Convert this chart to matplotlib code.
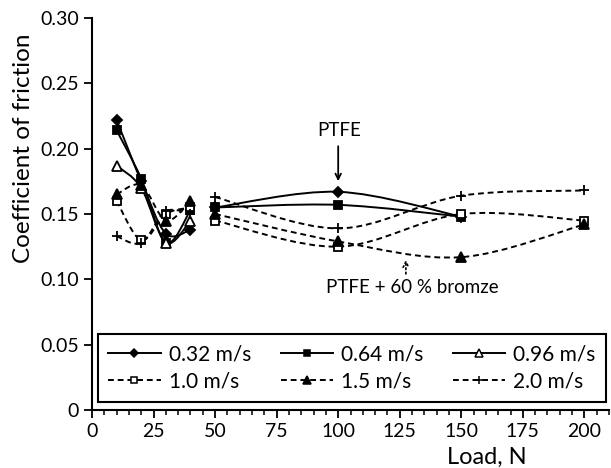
import numpy as np
import matplotlib
matplotlib.use("Agg")
import matplotlib.pyplot as plt
from matplotlib.path import Path
from matplotlib.patches import PathPatch
from matplotlib.lines import Line2D
from matplotlib.ticker import MultipleLocator, FuncFormatter

plt.rcParams['font.family'] = ['Lato', 'DejaVu Sans']

# sliding speeds (legend order)
speeds = ['0.32 m/s', '0.64 m/s', '0.96 m/s', '1.0 m/s', '1.5 m/s', '2.0 m/s']

# PTFE, loads 10-40 N
loads_ptfe = [10, 20, 30, 40]
cof_ptfe = [
    [0.222, 0.175, 0.135, 0.138],
    [0.214, 0.177, 0.128, 0.153],
    [0.187, 0.170, 0.128, 0.145],
    [0.160, 0.130, 0.150, 0.155],
    [0.165, 0.172, 0.145, 0.160],
    [0.133, 0.128, 0.152, 0.150],
]

# PTFE + 60 % bronze, loads 50-200 N
loads_bronze = [50, 100, 150, 200]
cof_bronze = [
    [0.155, 0.167, 0.148, np.nan],
    [0.155, 0.157, 0.148, np.nan],
    [np.nan, np.nan, np.nan, np.nan],
    [0.145, 0.125, 0.150, 0.145],
    [0.150, 0.129, 0.117, 0.142],
    [0.163, 0.139, 0.164, 0.168],
]

styles = [
    dict(ls='-', marker='D', mfc='black', ms=5.5),
    dict(ls='-', marker='s', mfc='black', ms=6),
    dict(ls='-', marker='^', mfc='white', ms=7),
    dict(ls=(0, (3, 2)), marker='s', mfc='white', ms=6),
    dict(ls=(0, (3, 2)), marker='^', mfc='black', ms=7),
    dict(ls=(0, (3, 2)), marker='+', mfc='black', ms=7),
]


def smooth_curve(ax, xs, ys, ls):
    # smoothed line through the points (bezier, catmull-rom style)
    pts = np.array([(x, y) for x, y in zip(xs, ys) if not np.isnan(y)])
    n = len(pts)
    if n < 2:
        return
    verts = [pts[0]]
    codes = [Path.MOVETO]
    for i in range(n - 1):
        p0 = pts[max(i - 1, 0)]
        p1 = pts[i]
        p2 = pts[i + 1]
        p3 = pts[min(i + 2, n - 1)]
        verts += [p1 + (p2 - p0) / 6, p2 - (p3 - p1) / 6, p2]
        codes += [Path.CURVE4] * 3
    ax.add_patch(PathPatch(Path(verts, codes), fill=False, ec='black',
                           lw=1.4, ls=ls))


fig = plt.figure(figsize=(6.11, 4.68), dpi=100)
ax = fig.add_axes([0.1506, 0.1239, 0.8461, 0.8376])

for i in range(len(speeds)):
    st = styles[i]
    for xs, ys in ((loads_ptfe, cof_ptfe[i]), (loads_bronze, cof_bronze[i])):
        smooth_curve(ax, xs, ys, st['ls'])
        ax.plot(xs, ys, ls='none', marker=st['marker'], mfc=st['mfc'],
                mec='black', ms=st['ms'], mew=1.3, zorder=3)

handles = [Line2D([], [], color='black', lw=1.4, ls=st['ls'], marker=st['marker'],
                  mfc=st['mfc'], mec='black', ms=st['ms'] - 1, mew=1.1)
           for st in styles]
# legend fills by column, so reorder to read row by row
order = [0, 3, 1, 4, 2, 5]
leg = ax.legend([handles[k] for k in order], [speeds[k] for k in order],
                ncol=3, loc='lower left',
                bbox_to_anchor=(0.0116, 0.02, 0.983, 0.171), mode='expand',
                fontsize=15, handlelength=2.5, handletextpad=0.4,
                fancybox=False, edgecolor='black', framealpha=1,
                borderaxespad=0, borderpad=0.5, columnspacing=1.0,
                labelspacing=0.35)
leg.get_frame().set_linewidth(1.5)

# annotations
ax.annotate('', xy=(100, 0.173), xytext=(100, 0.204),
            arrowprops=dict(arrowstyle='->', color='black', lw=1.3))
ax.text(100.5, 0.214, 'PTFE', ha='center', va='center', fontsize=13.5)
ax.annotate('', xy=(127.5, 0.117), xytext=(127.5, 0.102),
            arrowprops=dict(arrowstyle='->', color='black', lw=1.2, ls=':'))
ax.text(130, 0.0934, 'PTFE + 60 % bromze', ha='center', va='center', fontsize=13.5)

ax.set_xlim(0, 210)
ax.set_ylim(0, 0.30)
ax.xaxis.set_major_locator(MultipleLocator(25))
ax.xaxis.set_minor_locator(MultipleLocator(5))
ax.yaxis.set_major_locator(MultipleLocator(0.05))
ax.yaxis.set_major_formatter(FuncFormatter(lambda v, pos: '0' if abs(v) < 1e-9 else '%.2f' % v))
ax.tick_params(axis='both', which='major', direction='out', length=6, width=1.3,
               labelsize=14)
ax.tick_params(axis='x', which='minor', direction='out', length=3.5, width=1.1)
for side in ('top', 'right'):
    ax.spines[side].set_visible(False)
for side in ('left', 'bottom'):
    ax.spines[side].set_linewidth(1.5)

ax.set_xlabel('Load, N', fontsize=17)
ax.xaxis.set_label_coords(0.764, -0.095)
ax.set_ylabel('Coefficient of friction', fontsize=17.5)
ax.yaxis.set_label_coords(-0.112, 0.668)

fig.savefig('out.png', dpi=100)
